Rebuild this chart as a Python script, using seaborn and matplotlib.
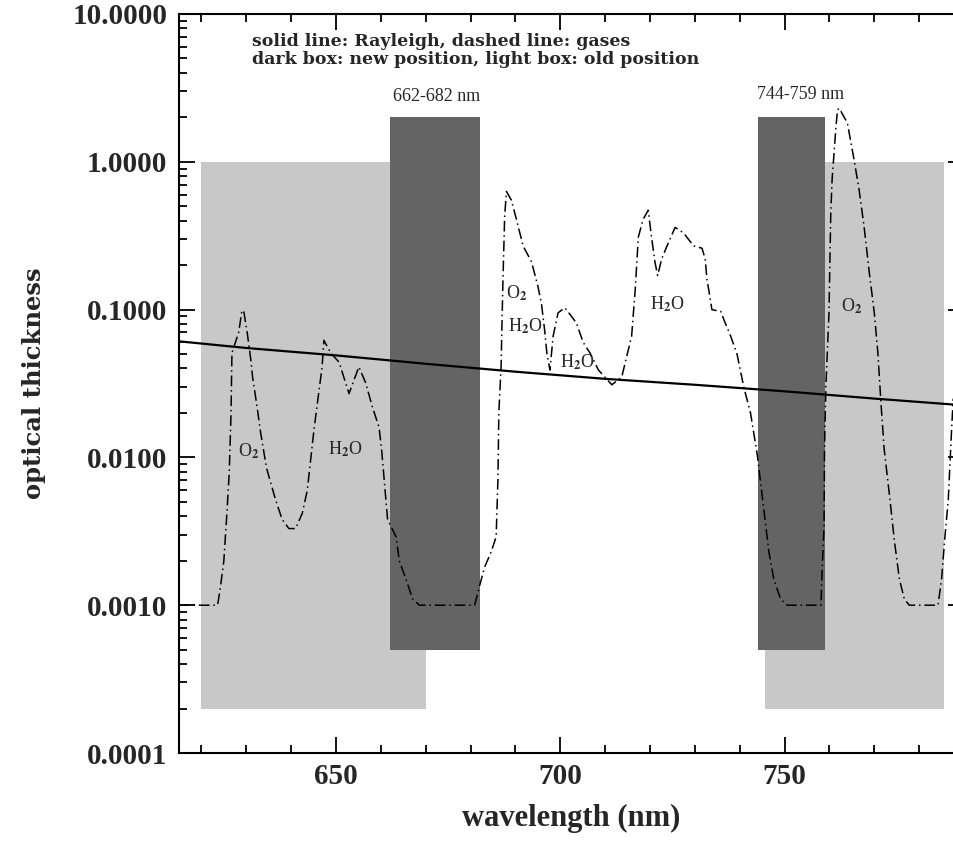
import numpy as np
import seaborn as sns
import matplotlib
matplotlib.use('Agg')
import matplotlib.pyplot as plt
from matplotlib.ticker import FixedLocator, LogLocator, MultipleLocator, FormatStrFormatter, NullFormatter

# gas absorption (dash-dot line)
gas_wl = [615.0, 623.6, 624.2, 625.0, 625.7, 626.2, 626.6, 626.8, 628.3, 629.0, 629.4, 630.2,
          631.0, 631.4, 632.4, 633.2, 634.5, 636.5, 638.0, 639.5, 641.0, 642.5, 643.6, 644.3,
          645.1, 646.2, 646.9, 647.3, 648.8, 650.7, 652.9, 655.1, 656.6, 658.1, 659.6, 660.2,
          660.7, 661.5, 663.4, 664.1, 665.6, 667.1, 668.6, 680.9, 682.0, 683.1, 684.6, 685.7,
          686.1, 686.3, 686.8, 687.2, 687.6, 688.0, 689.1, 690.2, 691.7, 693.6, 695.0, 695.8,
          696.5, 697.0, 697.7, 698.4, 699.5, 701.0, 702.5, 703.6, 705.1, 706.6, 708.5, 710.3,
          711.5, 713.7, 714.8, 715.9, 716.7, 717.4, 718.5, 719.6, 720.4, 721.1, 721.7, 722.6,
          723.8, 725.6, 727.5, 729.7, 731.6, 732.3, 732.7, 733.1, 733.8, 735.8, 736.5, 738.0,
          739.4, 740.9, 742.4, 743.9, 745.0, 745.7, 746.5, 747.6, 749.1, 750.6, 758.1, 758.4,
          758.8, 758.9, 759.2, 759.9, 760.3, 760.6, 761.4, 761.8, 762.2, 764.0, 765.5, 766.6,
          767.7, 768.9, 770.0, 770.8, 771.5, 772.2, 773.4, 774.5, 775.6, 776.7, 777.8, 784.2,
          785.0, 785.7, 786.5, 787.2, 787.6]
gas_tau = [0.001, 0.001, 0.0013, 0.002, 0.0043, 0.0079, 0.020, 0.051, 0.070, 0.097, 0.099, 0.070,
           0.046, 0.035, 0.022, 0.0147, 0.0085, 0.0052, 0.0038, 0.0033, 0.0033, 0.0042, 0.0060, 0.0093,
           0.0155, 0.028, 0.041, 0.062, 0.051, 0.044, 0.027, 0.041, 0.032, 0.022, 0.016, 0.011,
           0.0073, 0.0038, 0.0029, 0.0020, 0.0015, 0.0011, 0.001, 0.001, 0.00135, 0.0018, 0.0023, 0.0029,
           0.0071, 0.020, 0.041, 0.15, 0.43, 0.63, 0.55, 0.41, 0.27, 0.21, 0.144, 0.11,
           0.073, 0.051, 0.039, 0.066, 0.095, 0.103, 0.090, 0.081, 0.060, 0.051, 0.039, 0.034,
           0.031, 0.035, 0.048, 0.066, 0.136, 0.31, 0.41, 0.47, 0.30, 0.21, 0.17, 0.22,
           0.27, 0.36, 0.33, 0.27, 0.26, 0.22, 0.16, 0.136, 0.100, 0.097, 0.085, 0.066,
           0.050, 0.030, 0.020, 0.0105, 0.0055, 0.0036, 0.0023, 0.0015, 0.0011, 0.001, 0.001, 0.0018,
           0.0034, 0.0114, 0.03, 0.095, 0.45, 0.76, 1.64, 2.25, 2.3, 1.83, 1.03, 0.65,
           0.37, 0.177, 0.095, 0.051, 0.023, 0.0114, 0.0055, 0.0027, 0.0015, 0.0011, 0.001, 0.001,
           0.0015, 0.0028, 0.0052, 0.0147, 0.025]

# rayleigh (solid line)
ray_wl = [615, 630, 650, 670, 690, 710, 730, 750, 770, 790]
ray_tau = [0.061, 0.055, 0.049, 0.043, 0.038, 0.034, 0.031, 0.028, 0.025, 0.0225]

# light box = old position, dark box = new position
old_lo = [620, 745.6]
old_hi = [670, 785.5]
old_bottom = [0.0002, 0.0002]
old_top = [1.0, 1.0]
new_lo = [662, 744]
new_hi = [682, 759]
new_bottom = [0.0005, 0.0005]
new_top = [2.0, 2.0]

box_labels = ['662-682 nm', '744-759 nm']
box_label_x = [672.5, 753.5]
box_label_y = [2.75, 2.85]

mol_labels = [r'O$_2$', r'H$_2$O', r'O$_2$', r'H$_2$O', r'H$_2$O', r'H$_2$O', r'O$_2$']
mol_x = [630.5, 652.0, 690.3, 692.1, 703.9, 723.8, 764.9]
mol_y = [0.011, 0.0113, 0.128, 0.077, 0.044, 0.108, 0.105]

note_lines = ['solid line: Rayleigh, dashed line: gases',
              'dark box: new position, light box: old position']
note_y = [6.5, 4.9]

xticks = [650, 700, 750]
yticks = [1e-4, 1e-3, 1e-2, 1e-1, 1, 10]

sns.set_style('ticks')
plt.rcParams['font.family'] = ['Liberation Serif', 'DejaVu Serif']
plt.rcParams['font.weight'] = 'bold'
plt.rcParams['axes.labelweight'] = 'bold'
plt.rcParams['mathtext.fontset'] = 'stix'

fig = plt.figure(figsize=(9.54, 8.41), dpi=100)
# right edge of the axes sits just outside the picture, like the original
ax = fig.add_axes([179/954, 88/841, 785/954, 739/841])
ax.set_yscale('log')

ax.bar(old_lo, np.array(old_top) - np.array(old_bottom), width=np.array(old_hi) - np.array(old_lo),
       bottom=old_bottom, align='edge', color='#c8c8c8', linewidth=0, zorder=1)
ax.bar(new_lo, np.array(new_top) - np.array(new_bottom), width=np.array(new_hi) - np.array(new_lo),
       bottom=new_bottom, align='edge', color='#646464', linewidth=0, zorder=1.5)

sns.lineplot(x=ray_wl, y=ray_tau, color='black', linewidth=1.6, estimator=None, ax=ax, zorder=3)
sns.lineplot(x=gas_wl, y=gas_tau, color='black', linewidth=1.1, estimator=None, ax=ax, zorder=3)
ax.lines[-1].set_dashes((7, 2.5, 1, 2.5))

for txt, x, y in zip(box_labels, box_label_x, box_label_y):
    ax.text(x, y, txt, ha='center', va='center', fontsize=13, fontweight='normal')
for txt, x, y in zip(mol_labels, mol_x, mol_y):
    ax.text(x, y, txt, ha='center', va='center', fontsize=13, fontweight='normal', zorder=4)
for txt, y in zip(note_lines, note_y):
    ax.text(631.3, y, txt, ha='left', va='center', fontsize=12.5,
            family='DejaVu Serif', fontweight='bold')

ax.set_xlim(615, 790)
ax.set_ylim(1e-4, 10)
ax.xaxis.set_major_locator(FixedLocator(xticks))
ax.xaxis.set_minor_locator(MultipleLocator(10))
ax.yaxis.set_major_locator(FixedLocator(yticks))
ax.yaxis.set_minor_locator(LogLocator(base=10, subs=np.arange(2, 10)))
ax.yaxis.set_major_formatter(FormatStrFormatter('%.4f'))
ax.yaxis.set_minor_formatter(NullFormatter())

ax.tick_params(which='both', direction='in', top=True, right=True, width=1.3, color='black')
ax.tick_params(which='major', length=11.5, labelsize=21)
ax.tick_params(which='minor', length=5.8)
ax.tick_params(axis='x', pad=7)
ax.tick_params(axis='y', pad=8.5)
for sp in ax.spines.values():
    sp.set_linewidth(1.5)
    sp.set_color('black')

ax.set_xlabel('wavelength (nm)', fontsize=22, fontweight='bold', labelpad=10)
ax.set_ylabel('optical thickness', fontsize=17.5, family='DejaVu Serif', fontweight='bold', labelpad=19)

fig.savefig('out.png', dpi=100)
